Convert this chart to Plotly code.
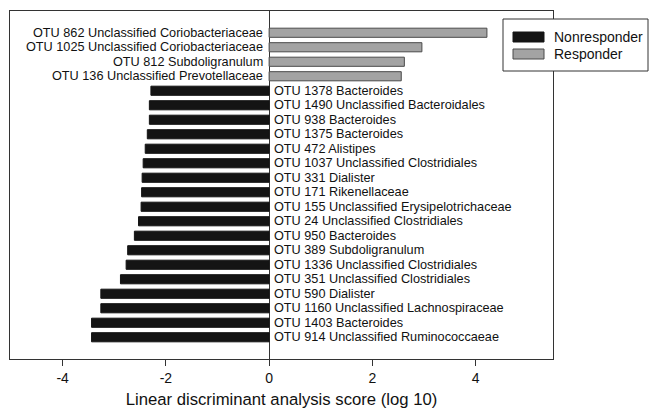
import plotly.graph_objects as go

labels = [
    "OTU 862 Unclassified Coriobacteriaceae",
    "OTU 1025 Unclassified Coriobacteriaceae",
    "OTU 812 Subdoligranulum",
    "OTU 136 Unclassified Prevotellaceae",
    "OTU 1378 Bacteroides",
    "OTU 1490 Unclassified Bacteroidales",
    "OTU 938 Bacteroides",
    "OTU 1375 Bacteroides",
    "OTU 472 Alistipes",
    "OTU 1037 Unclassified Clostridiales",
    "OTU 331 Dialister",
    "OTU 171 Rikenellaceae",
    "OTU 155 Unclassified Erysipelotrichaceae",
    "OTU 24 Unclassified Clostridiales",
    "OTU 950 Bacteroides",
    "OTU 389 Subdoligranulum",
    "OTU 1336 Unclassified Clostridiales",
    "OTU 351 Unclassified Clostridiales",
    "OTU 590 Dialister",
    "OTU 1160 Unclassified Lachnospiraceae",
    "OTU 1403 Bacteroides",
    "OTU 914 Unclassified Ruminococcaeae",
]
scores = [4.22, 2.96, 2.62, 2.56,
          -2.29, -2.32, -2.32, -2.36, -2.40, -2.44, -2.46, -2.47, -2.48,
          -2.53, -2.61, -2.74, -2.77, -2.88, -3.26, -3.26, -3.44, -3.44]
groups = ["Nonresponder", "Responder"]
group_colors = {"Nonresponder": "#141414", "Responder": "#a3a3a3"}
group_lines = {"Nonresponder": "#141414", "Responder": "#4a4a4a"}
x_ticks = [-4, -2, 0, 2, 4]
x_ticktext = ["-4", "-2", "0", "2", "4"]

FONT = "Liberation Sans, Arial, sans-serif"

fig = go.Figure()
for g in groups:
    ys = [l for l, s in zip(labels, scores) if (s > 0) == (g == "Responder")]
    xs = [s for s in scores if (s > 0) == (g == "Responder")]
    fig.add_trace(go.Bar(
        x=xs, y=ys, orientation="h", name=g,
        marker=dict(color=group_colors[g], line=dict(color=group_lines[g], width=1)),
        width=0.63, showlegend=False,
    ))

annotations = []
for l, s in zip(labels, scores):
    annotations.append(dict(
        x=0, y=l, xref="x", yref="y", text=l, showarrow=False,
        xanchor="right" if s > 0 else "left",
        xshift=-4 if s > 0 else 3,
        font=dict(family=FONT, size=12.7, color="#111"),
    ))

# custom legend (paper coordinates); plot area spans page px x 10..553, y 11..359
def px(xp):
    return (xp - 10) / 543.0
def py(yp):
    return (359 - yp) / 348.0

shapes = [
    dict(type="rect", xref="paper", yref="paper", x0=px(503), x1=px(648), y0=py(71), y1=py(19),
         line=dict(color="#333", width=1), fillcolor="white", layer="above"),
]
for i, g in enumerate(groups):
    yc = 37 + i * 17
    shapes.append(dict(type="rect", xref="paper", yref="paper", x0=px(513), x1=px(544),
                       y0=py(yc + 5), y1=py(yc - 5), line=dict(color=group_lines[g], width=1),
                       fillcolor=group_colors[g], layer="above"))
    annotations.append(dict(x=px(552), y=py(yc), xref="paper", yref="paper", text=g,
                            showarrow=False, xanchor="left", yanchor="middle",
                            font=dict(family=FONT, size=14, color="#111")))

fig.update_layout(
    width=652, height=412,
    margin=dict(l=2, r=107, t=3, b=61),
    plot_bgcolor="white", paper_bgcolor="white",
    barmode="overlay",
    shapes=shapes, annotations=annotations,
    font=dict(family=FONT, color="#111"),
    xaxis=dict(
        range=[-5.02, 5.5], tickvals=x_ticks, ticktext=x_ticktext,
        ticks="outside", ticklen=6, tickcolor="#333",
        showgrid=False, zeroline=True, zerolinecolor="#333", zerolinewidth=1,
        showline=True, linecolor="#333", linewidth=1, mirror=True,
        tickfont=dict(size=14), title=dict(text="Linear discriminant analysis score (log 10)",
                                           font=dict(size=16.7), standoff=8),
    ),
    yaxis=dict(
        categoryorder="array", categoryarray=labels, range=[22.5, -1.5],
        showticklabels=False, ticks="", showgrid=False,
        showline=True, linecolor="#333", linewidth=1, mirror=True,
    ),
)

fig.write_html("out.html")
